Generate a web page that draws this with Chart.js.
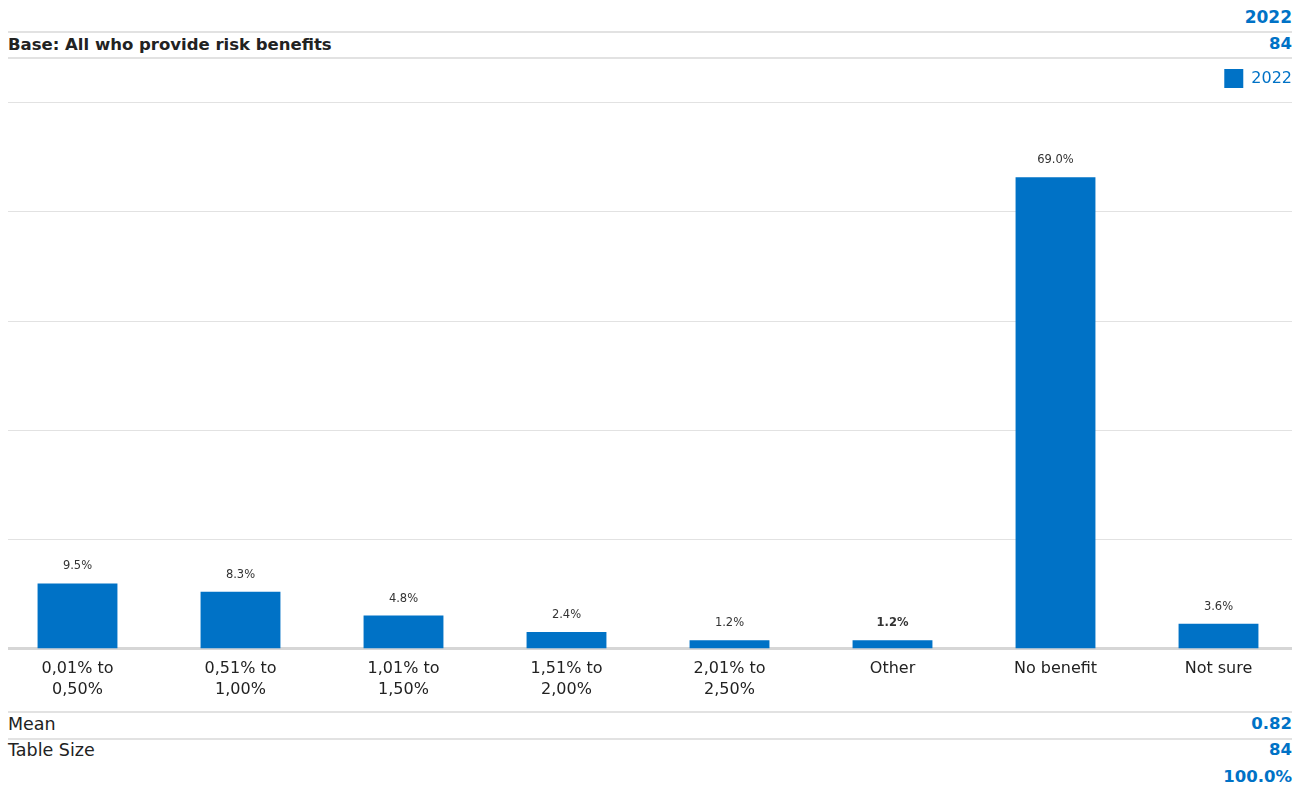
<!DOCTYPE html>
<html>
<head>
<meta charset="utf-8">
<script src="https://cdn.jsdelivr.net/npm/chart.js@4.4.1/dist/chart.umd.min.js"></script>
<style>
  body { margin: 0; background: #fff; font-family: "DejaVu Sans", sans-serif; color: #222; }
  .rule { position: absolute; left: 8px; width: 1284px; height: 0; border-top: 2px solid #e2e2e2; }
  .t { position: absolute; font-size: 17.5px; line-height: 20px; white-space: nowrap; }
  .lbl { left: 8px; }
  .val { right: 14px; color: #0072c6; font-weight: 700; text-align: right; font-size: 16.5px; }
  #wrap { position: absolute; left: -4px; top: 58px; width: 1310px; height: 644px; }
</style>
</head>
<body>

<div class="t val" style="top:7px;font-size:17px">2022</div>
<div class="rule" style="top:31px"></div>
<div class="t lbl" style="top:35px;font-weight:700;font-size:16.5px">Base: All who provide risk benefits</div>
<div class="t val" style="top:34px">84</div>
<div class="rule" style="top:57px"></div>

<div id="wrap"><canvas id="chart"></canvas></div>

<div class="rule" style="top:711px"></div>
<div class="t lbl" style="top:714px">Mean</div>
<div class="t val" style="top:714px">0.82</div>
<div class="rule" style="top:738px"></div>
<div class="t lbl" style="top:740px">Table Size</div>
<div class="t val" style="top:740px">84</div>
<div class="t val" style="top:767px">100.0%</div>

<script>
// categories and values
var categories = [
    ['0,01% to', '0,50%'],
    ['0,51% to', '1,00%'],
    ['1,01% to', '1,50%'],
    ['1,51% to', '2,00%'],
    ['2,01% to', '2,50%'],
    'Other',
    'No benefit',
    'Not sure'
];
var values2022 = [9.5, 8.3, 4.8, 2.4, 1.2, 1.2, 69.0, 3.6];
var yTicks = [0, 16, 32, 48, 64, 80];

var blue = '#0072c6';

// horizontal rules, drawn from the y scale, a bit narrower than the plot area
var gridPlugin = {
    id: 'gridRules',
    beforeDatasetsDraw: function (chart) {
        var ctx = chart.ctx;
        var y = chart.scales.y;
        ctx.save();
        yTicks.forEach(function (v) {
            var py = Math.round(y.getPixelForValue(v));
            ctx.beginPath();
            ctx.strokeStyle = v === 0 ? '#d6d6d6' : '#e2e2e2';
            ctx.lineWidth = v === 0 ? 3 : 1;
            ctx.moveTo(12, py + 0.5);
            ctx.lineTo(1296, py + 0.5);
            ctx.stroke();
        });
        ctx.restore();
    }
};

// value labels above bars ("Other" is bolder in the original)
var valuePlugin = {
    id: 'valueLabels',
    afterDatasetsDraw: function (chart) {
        var ctx = chart.ctx;
        var meta = chart.getDatasetMeta(0);
        ctx.save();
        ctx.fillStyle = '#333';
        ctx.textAlign = 'center';
        ctx.textBaseline = 'middle';
        meta.data.forEach(function (bar, i) {
            ctx.font = (categories[i] === 'Other' ? 'bold 11.5px' : '11.5px') + ' "DejaVu Sans", sans-serif';
            ctx.fillText(values2022[i].toFixed(1) + '%', bar.x, bar.y - 17);
        });
        ctx.restore();
    }
};

// keep a bit more room under the legend
var legendGap = {
    id: 'legendGap',
    beforeInit: function (chart) {
        var fit = chart.legend.fit;
        chart.legend.fit = function () {
            fit.call(this);
            this.height += 4;
        };
    }
};

new Chart(document.getElementById('chart'), {
    type: 'bar',
    data: {
        labels: categories,
        datasets: [{
            label: '2022',
            data: values2022,
            backgroundColor: blue,
            borderWidth: 0,
            categoryPercentage: 1,
            barPercentage: 0.49
        }]
    },
    options: {
        responsive: true,
        maintainAspectRatio: false,
        animation: false,
        layout: { padding: { left: 0, right: 6, top: 3, bottom: 0 } },
        plugins: {
            legend: {
                position: 'top',
                align: 'end',
                labels: {
                    boxWidth: 19,
                    boxHeight: 19,
                    color: blue,
                    font: { family: '"DejaVu Sans", sans-serif', size: 16 },
                    padding: 8
                }
            },
            tooltip: { enabled: false }
        },
        scales: {
            x: {
                grid: { display: false },
                border: { display: false },
                ticks: {
                    color: '#222',
                    font: { family: '"DejaVu Sans", sans-serif', size: 16, lineHeight: 1.3 },
                    padding: 2,
                    maxRotation: 0,
                    autoSkip: false
                }
            },
            y: {
                display: false,
                min: 0,
                max: 80,
                afterBuildTicks: function (axis) {
                    axis.ticks = yTicks.map(function (v) { return { value: v }; });
                }
            }
        }
    },
    plugins: [gridPlugin, valuePlugin, legendGap]
});
</script>
</body>
</html>
